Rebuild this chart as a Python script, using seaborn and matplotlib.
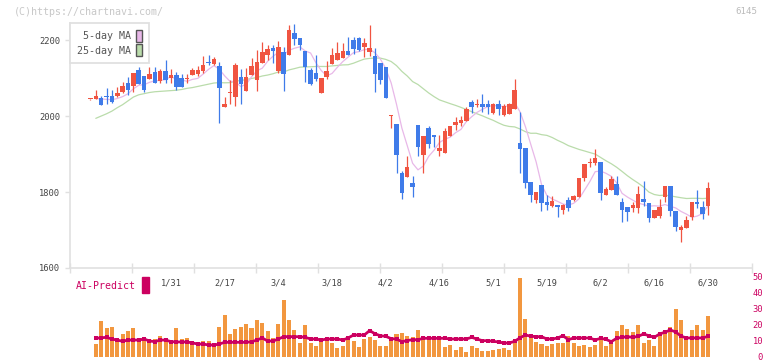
import numpy as np
import pandas as pd
import matplotlib
matplotlib.use("Agg")
import matplotlib.pyplot as plt
from matplotlib.patches import Patch, Rectangle
import seaborn as sns

# ---------------- data ----------------
opens = [2044, 2044, 2047, 2054, 2054, 2054, 2063, 2088, 2079, 2121,
         2105, 2098, 2117, 2091, 2119, 2099, 2108, 2099, 2098, 2108,
         2110, 2119, 2143, 2137, 2132, 2025, 2060, 2051, 2103, 2067,
         2109, 2096, 2139, 2160, 2179, 2119, 2168, 2160, 2218, 2205,
         2172, 2122, 2113, 2061, 2102, 2137, 2148, 2153, 2172, 2201,
         2205, 2182, 2168, 2157, 2139, 2128, 2000, 1979, 1851, 1839,
         1823, 1976, 1897, 1968, 1950, 1909, 1903, 1947, 1976, 1982,
         1988, 2038, 2030, 2032, 2032, 2009, 2032, 2003, 2005, 2018,
         1928, 1915, 1826, 1779, 1818, 1774, 1763, 1766, 1753, 1779,
         1779, 1788, 1836, 1877, 1876, 1880, 1792, 1805, 1821, 1774,
         1761, 1759, 1759, 1781, 1770, 1732, 1738, 1786, 1816, 1750,
         1700, 1706, 1735, 1773, 1761, 1764]
highs = [2046, 2068, 2053, 2073, 2068, 2077, 2090, 2103, 2114, 2130,
         2105, 2130, 2130, 2123, 2147, 2123, 2117, 2112, 2112, 2126,
         2132, 2158, 2161, 2155, 2143, 2049, 2095, 2139, 2123, 2126,
         2153, 2174, 2195, 2186, 2186, 2197, 2181, 2239, 2242, 2205,
         2172, 2126, 2161, 2100, 2144, 2179, 2195, 2192, 2207, 2207,
         2207, 2205, 2240, 2179, 2139, 2128, 2004, 1979, 1856, 1895,
         1842, 1976, 1947, 1974, 1950, 1950, 1968, 1974, 1998, 2000,
         2024, 2042, 2044, 2058, 2042, 2035, 2042, 2033, 2035, 2097,
         2011, 1915, 1826, 1801, 1818, 1792, 1789, 1766, 1768, 1788,
         1792, 1836, 1874, 1889, 1912, 1880, 1814, 1843, 1843, 1783,
         1761, 1774, 1816, 1828, 1770, 1753, 1781, 1816, 1816, 1750,
         1713, 1737, 1774, 1805, 1776, 1826]
lows = [2043, 2044, 2030, 2032, 2035, 2051, 2061, 2055, 2064, 2084,
        2064, 2098, 2086, 2086, 2086, 2086, 2068, 2077, 2086, 2108,
        2105, 2114, 2134, 2134, 1982, 2023, 2032, 2026, 2032, 2067,
        2109, 2067, 2139, 2148, 2139, 2113, 2067, 2160, 2186, 2174,
        2089, 2082, 2091, 2061, 2098, 2137, 2148, 2153, 2160, 2163,
        2170, 2155, 2157, 2063, 2084, 2047, 1968, 1851, 1781, 1839,
        1788, 1895, 1851, 1915, 1918, 1895, 1903, 1947, 1963, 1974,
        1988, 2009, 2023, 2011, 2005, 2005, 2003, 2000, 2005, 2018,
        1849, 1810, 1775, 1771, 1751, 1753, 1761, 1735, 1742, 1751,
        1777, 1786, 1830, 1867, 1871, 1779, 1792, 1805, 1792, 1722,
        1725, 1748, 1744, 1763, 1722, 1731, 1731, 1774, 1738, 1698,
        1669, 1706, 1726, 1759, 1728, 1739]
closes = [2045, 2054, 2030, 2049, 2037, 2061, 2079, 2068, 2114, 2084,
          2068, 2110, 2088, 2119, 2095, 2108, 2077, 2077, 2100, 2121,
          2121, 2134, 2139, 2149, 2074, 2033, 2062, 2134, 2085, 2104,
          2131, 2142, 2168, 2176, 2170, 2182, 2111, 2227, 2203, 2188,
          2128, 2084, 2098, 2100, 2119, 2160, 2166, 2172, 2160, 2177,
          2173, 2192, 2179, 2111, 2096, 2047, 2004, 1897, 1798, 1865,
          1814, 1918, 1947, 1926, 1946, 1915, 1961, 1974, 1985, 1989,
          2018, 2025, 2032, 2025, 2025, 2032, 2018, 2026, 2032, 2068,
          1912, 1824, 1792, 1801, 1772, 1766, 1777, 1761, 1766, 1759,
          1789, 1836, 1874, 1879, 1890, 1797, 1807, 1834, 1792, 1753,
          1748, 1766, 1795, 1774, 1731, 1753, 1761, 1816, 1751, 1709,
          1707, 1726, 1774, 1768, 1742, 1811]

# moving-average values before enough visible history exists
ma5_head = [np.nan, 2046, 2045, 2044]
ma25_head = [np.nan, 1994, 2000, 2006, 2013, 2022, 2030, 2040, 2050, 2056,
             2059, 2062, 2064, 2065, 2066, 2067, 2068, 2070, 2073, 2075,
             2078, 2081, 2084, 2087]

# volume bars (index 1..115) and AI-Predict line
volume = [8.1, 22.5, 18.1, 18.75, 10.6, 14.4, 16.25, 18.1, 10.6, 12.5,
          10, 11.25, 13.1, 11.25, 10.6, 18.1, 11.25, 11.9, 8.1, 9.4,
          10, 10, 7.5, 18.75, 26.25, 14.4, 17.5, 18.75, 20.6, 18.1,
          23.1, 21.25, 16.25, 11.9, 20.6, 35.6, 23.1, 16.9, 8.75, 20,
          8.75, 6.9, 10, 10.6, 8.75, 5.6, 6.9, 10.6, 10, 6.25,
          11.25, 12.5, 10.6, 6.9, 6.9, 10.2, 14.2, 15, 12.9, 12.5,
          16.9, 13.1, 11.25, 11.25, 11.25, 6.25, 7.5, 4.4, 6.25, 3.1,
          6.9, 5.6, 3.75, 3.75, 4.6, 5, 5.6, 4.4, 10, 49.4,
          23.75, 11.9, 9.4, 8.1, 6.9, 8.1, 8.75, 8.75, 13.1, 8.75,
          6.9, 7.5, 6.25, 7.5, 10.6, 6.9, 8.75, 16.25, 20, 17.5,
          15.6, 20, 8.75, 10.6, 6.9, 15, 15.6, 18.75, 30, 23.1,
          13.1, 17, 20, 17, 25.6]
ai_predict = [11.7, 12.0, 12.3, 11.2, 10.6, 9.8, 10.6, 10.6, 10.6, 11.25,
              10.0, 9.6, 10.6, 10.6, 9.6, 9.4, 9.4, 9.4, 8.8, 8.1,
              8.1, 7.5, 7.5, 8.1, 9.2, 9.2, 9.2, 9.2, 9.2, 9.5,
              10.6, 11.9, 10.0, 10.0, 11.2, 12.7, 12.7, 12.7, 12.7, 12.3,
              11.25, 11.25, 10.6, 11.25, 11.25, 11.25, 10.6, 11.9, 13.75, 13.75,
              13.75, 16.5, 14.5, 13.3, 12.9, 11.5, 11.2, 9.6, 10.3, 10.8,
              10.8, 11.7, 11.7, 11.7, 11.7, 11.7, 11.25, 11.25, 11.25, 11.25,
              12.3, 11.2, 10.2, 10.2, 9.8, 9.4, 8.75, 8.75, 9.8, 12.0,
              13.75, 13.0, 12.7, 12.7, 11.25, 11.25, 11.9, 13.3, 10.8, 11.9,
              11.9, 11.9, 11.9, 10.6, 11.7, 11.0, 9.6, 11.7, 12.3, 12.7,
              12.3, 12.9, 14.4, 13.3, 12.3, 14.4, 15.5, 16.9, 15.6, 13.0,
              11.9, 11.9, 11.9, 11.9, 12.9]

date_labels = ["1/31", "2/17", "3/4", "3/18", "4/2", "4/16", "5/1",
               "5/19", "6/2", "6/16", "6/30"]
date_label_idx = [15, 25, 35, 45, 55, 65, 75, 85, 95, 105, 115]
price_ticks = [1600, 1800, 2000, 2200]
vol_ticks = [0, 10, 20, 30, 40, 50]

# ---------------- styling ----------------
RED = "#f05441"
BLUE = "#3f7be9"
PINK = "#e8b8e8"
GREEN = "#badcab"
ORANGE = "#f2973f"
CRIMSON = "#cc0060"
GRID = "#e0e0e0"
MONO = ["DejaVu Sans Mono"]

sns.set_style("white")
plt.rcParams["font.family"] = MONO

W, H = 772, 361
fig = plt.figure(figsize=(W / 100, H / 100), dpi=100)

ax = fig.add_axes([70 / W, (H - 268) / H, 682 / W, 245 / H])
axv = fig.add_axes([70 / W, 4 / H, 682 / W, 80 / H])
axv.patch.set_visible(False)

n = len(closes)
idx = np.arange(n)
o = np.array(opens, float)
h = np.array(highs, float)
l = np.array(lows, float)
c = np.array(closes, float)

# moving averages
cs = pd.Series(c)
ma5 = cs.rolling(5).mean().to_numpy()
ma5[:len(ma5_head)] = ma5_head
ma25 = cs.rolling(25).mean().to_numpy()
ma25[:len(ma25_head)] = ma25_head

ma_df = pd.DataFrame({"idx": idx, "ma5": ma5, "ma25": ma25})
sns.lineplot(data=ma_df, x="idx", y="ma25", ax=ax, color=GREEN, linewidth=0.9, zorder=1)
sns.lineplot(data=ma_df, x="idx", y="ma5", ax=ax, color=PINK, linewidth=0.9, zorder=1)

# candles
up = c >= o
cols = np.where(up, RED, BLUE)
ax.vlines(idx, l, h, colors=cols, linewidth=0.9, zorder=2)
body_bottom = np.minimum(o, c)
body_h = np.maximum(np.abs(c - o), 2.5)
ax.bar(idx, body_h, bottom=body_bottom, width=0.84, color=cols, linewidth=0, zorder=3)

xmin, xmax = -3.8, 123.2
ax.set_xlim(xmin, xmax)
ax.set_ylim(1600, 2245)
ax.set_xlabel("")
ax.set_ylabel("")
for s in ["top", "right"]:
    ax.spines[s].set_visible(False)
for s in ["left", "bottom"]:
    ax.spines[s].set_color(GRID)
    ax.spines[s].set_linewidth(1.2)

ax.set_yticks(price_ticks)
ax.set_yticklabels([str(t) for t in price_ticks])
ax.tick_params(axis="y", left=True, labelleft=True, length=3.6, width=1, color=GRID,
               labelsize=6.3, labelcolor="#444444", pad=3.4)
ax.set_xticks(np.linspace(xmin, xmax, 12))
ax.set_xticklabels([])
ax.tick_params(axis="x", which="major", bottom=True, direction="inout", length=6.5,
               width=1, color=GRID)
ax.set_xticks(date_label_idx, minor=True)
ax.set_xticklabels(date_labels, minor=True)
ax.tick_params(axis="x", which="minor", bottom=True, labelbottom=True, length=0,
               pad=7.5, labelsize=6.2, labelcolor="#444444")

handles = [Patch(facecolor=PINK, edgecolor="#555555", linewidth=1.0),
           Patch(facecolor=GREEN, edgecolor="#555555", linewidth=1.0)]
leg = ax.legend(handles, ["5-day MA", "25-day MA"], loc="upper left",
                bbox_to_anchor=(0, 1.0), borderaxespad=0, markerfirst=False,
                frameon=True, fancybox=False, framealpha=1, edgecolor=GRID,
                prop={"family": MONO, "size": 7.2}, labelcolor="#555555",
                handlelength=0.62, handleheight=1.5, handletextpad=0.5,
                borderpad=0.7, labelspacing=0.2)
leg.get_frame().set_linewidth(1.3)
leg.set_zorder(10)

# volume + AI predict panel
vdf = pd.DataFrame({"idx": idx[1:], "volume": volume, "ai": ai_predict})
sns.barplot(data=vdf, x="idx", y="volume", ax=axv, native_scale=True, color=ORANGE,
            saturation=1, width=0.75, errorbar=None, linewidth=0)
sns.lineplot(data=vdf, x="idx", y="ai", ax=axv, color=CRIMSON, linewidth=2.0,
             marker="s", markersize=2.8, markeredgewidth=0)
axv.set_xlim(xmin, xmax)
axv.set_ylim(0, 50)
axv.set_xlabel("")
axv.set_ylabel("")
axv.set_xticks([])
for s in axv.spines.values():
    s.set_visible(False)
axv.yaxis.tick_right()
axv.set_yticks(vol_ticks)
axv.set_yticklabels([str(t) for t in vol_ticks])
axv.tick_params(axis="y", right=True, labelright=True, length=0, pad=8.0,
                labelsize=6.3, labelcolor=CRIMSON)
for t in axv.get_yticklabels():
    t.set_horizontalalignment("right")

# header and AI-Predict legend
fig.text(14 / W, 1 - 12 / H, "(C)https://chartnavi.com/", color="#c8c8c8",
         fontsize=7.2, va="center", ha="left")
fig.text(757 / W, 1 - 12 / H, "6145", color="#bbbbbb", fontsize=6.6,
         va="center", ha="right")
fig.text(76 / W, 1 - 286 / H, "AI-Predict", color=CRIMSON, fontsize=7.1,
         va="center", ha="left")
fig.patches.append(Rectangle((142 / W, 1 - 293 / H), 7 / W, 16 / H,
                             transform=fig.transFigure, color=CRIMSON))

fig.savefig("out.png", dpi=100)
